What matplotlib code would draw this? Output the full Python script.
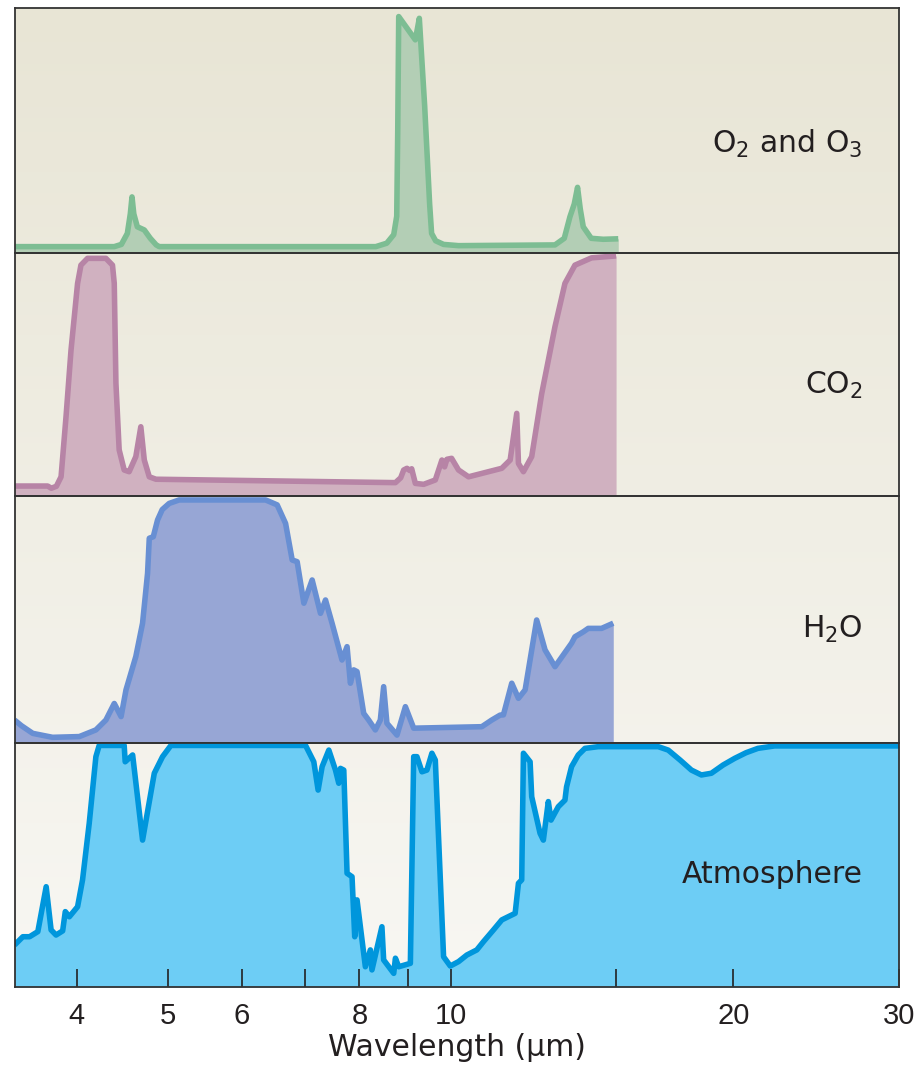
import numpy as np
import matplotlib
matplotlib.use("Agg")
import matplotlib.pyplot as plt
from matplotlib.ticker import FixedLocator, FixedFormatter, NullLocator

plt.rcParams['font.family'] = ['Liberation Sans', 'DejaVu Sans']
plt.rcParams['mathtext.fontset'] = 'dejavusans'

# ---------------- data (wavelength in micrometres, absorptivity 0..1) -------------
o2_wl = [3.436, 4.387, 4.464, 4.530, 4.563, 4.582, 4.602, 4.642, 4.722, 4.792, 4.862, 4.898,
         8.326, 8.553, 8.700, 8.764, 8.786, 8.807, 9.173, 9.263, 9.385, 9.500, 9.546, 9.640,
         9.830, 10.197, 12.915, 13.212, 13.397, 13.539, 13.649, 13.740, 13.841, 14.114,
         14.536, 15.080]
o2_abs = [0.026, 0.026, 0.035, 0.08, 0.16, 0.229, 0.16, 0.107, 0.094, 0.06, 0.033, 0.026,
          0.026, 0.040, 0.075, 0.15, 0.5, 0.965, 0.87, 0.958, 0.6, 0.2, 0.08, 0.05,
          0.035, 0.03, 0.033, 0.06, 0.148, 0.2, 0.268, 0.18, 0.107, 0.06,
          0.056, 0.058]

co2_wl = [3.436, 3.727, 3.760, 3.807, 3.851, 3.898, 3.946, 4.010, 4.043, 4.109, 4.298, 4.368,
          4.387, 4.405, 4.440, 4.495, 4.550, 4.625, 4.682, 4.722, 4.780, 4.859, 8.736, 8.850,
          8.915, 8.987, 9.047, 9.091, 9.173, 9.362, 9.633, 9.790, 9.854, 9.910, 10.025, 10.197,
          10.450, 11.337, 11.572, 11.760, 11.809, 11.954, 12.199, 12.500, 12.915, 13.234,
          13.562, 14.125, 15.0]
co2_abs = [0.041, 0.041, 0.032, 0.04, 0.079, 0.326, 0.60, 0.875, 0.95, 0.978, 0.978, 0.95,
           0.875, 0.464, 0.19, 0.107, 0.10, 0.162, 0.285, 0.148, 0.079, 0.069, 0.055, 0.075,
           0.107, 0.114, 0.105, 0.112, 0.052, 0.048, 0.066, 0.148, 0.12, 0.151, 0.155, 0.107,
           0.079, 0.114, 0.148, 0.34, 0.134, 0.10, 0.162, 0.42, 0.697, 0.875,
           0.95, 0.98, 0.988]

h2o_wl = [3.436, 3.495, 3.593, 3.772, 4.027, 4.194, 4.298, 4.387, 4.461, 4.515, 4.625, 4.702,
          4.760, 4.780, 4.827, 4.878, 4.934, 5.019, 5.143, 6.356, 6.539, 6.675, 6.784, 6.867,
          6.981, 7.124, 7.271, 7.361, 7.480, 7.665, 7.760, 7.824, 7.888, 7.952, 8.083, 8.182,
          8.317, 8.419, 8.488, 8.556, 8.770, 8.952, 9.136, 10.795, 11.062, 11.291, 11.383,
          11.617, 11.809, 12.004, 12.348, 12.604, 12.915, 13.450, 13.562, 13.841, 14.011,
          14.476, 14.897]
h2o_abs = [0.093, 0.07, 0.039, 0.023, 0.026, 0.053, 0.093, 0.16, 0.107, 0.215, 0.35, 0.485,
           0.687, 0.829, 0.835, 0.903, 0.945, 0.97, 0.984, 0.984, 0.964, 0.889, 0.741, 0.734,
           0.566, 0.66, 0.525, 0.579, 0.485, 0.336, 0.39, 0.242, 0.296, 0.289, 0.12, 0.093,
           0.053, 0.093, 0.228, 0.08, 0.032, 0.147, 0.06, 0.066, 0.093, 0.113, 0.114,
           0.242, 0.181, 0.215, 0.498, 0.377, 0.309, 0.404, 0.43, 0.45, 0.464,
           0.464, 0.485]

atm_wl = [3.436, 3.507, 3.565, 3.638, 3.713, 3.758, 3.804, 3.866, 3.891, 3.930, 4.010, 4.059,
          4.126, 4.194, 4.228, 4.495, 4.506, 4.589, 4.702, 4.839, 4.938, 5.040, 7.010, 7.153,
          7.229, 7.300, 7.421, 7.543, 7.604, 7.636, 7.698, 7.760, 7.855, 7.907, 7.952, 8.116,
          8.216, 8.248, 8.452, 8.488, 8.700, 8.736, 8.807, 9.062, 9.136, 9.209, 9.323, 9.437,
          9.553, 9.633, 9.830, 9.993, 10.197, 10.406, 10.664, 10.840, 11.108, 11.337, 11.714,
          11.809, 11.904, 11.954, 12.151, 12.199, 12.451, 12.552, 12.706, 12.790, 13.021,
          13.234, 13.286, 13.450, 13.673, 13.899, 14.359, 16.632, 17.043, 17.55, 18.041,
          18.487, 18.944, 19.50, 20.057, 20.62, 21.232, 22.114, 30.0]
atm_abs = [0.172, 0.206, 0.206, 0.227, 0.411, 0.234, 0.213, 0.23, 0.309, 0.288, 0.329, 0.439,
           0.671, 0.944, 0.99, 0.99, 0.923, 0.951, 0.602, 0.876, 0.944, 0.99, 0.99, 0.923,
           0.807, 0.903, 0.971, 0.889, 0.835, 0.896, 0.889, 0.466, 0.452, 0.206, 0.357, 0.083,
           0.152, 0.07, 0.247, 0.111, 0.056, 0.118, 0.083, 0.097, 0.944, 0.944, 0.882, 0.889,
           0.958, 0.93, 0.124, 0.086, 0.104, 0.131, 0.152, 0.186, 0.234, 0.275, 0.302,
           0.425, 0.439, 0.958, 0.923, 0.78, 0.63, 0.602, 0.76, 0.684, 0.739,
           0.766, 0.82, 0.903, 0.951, 0.978, 0.985, 0.985, 0.971, 0.93, 0.889,
           0.869, 0.876, 0.91, 0.937, 0.96, 0.978, 0.988, 0.988]

panel_labels = ["O$_\\mathregular{2}$ and O$_\\mathregular{3}$", "CO$_\\mathregular{2}$",
                "H$_\\mathregular{2}$O", "Atmosphere"]
tick_values = [4, 5, 6, 7, 8, 9, 10, 15, 20, 30]
tick_labels = ["4", "5", "6", "", "8", "", "10", "", "20", "30"]
x_label = "Wavelength (\u00b5m)"

series = [(o2_wl, o2_abs), (co2_wl, co2_abs), (h2o_wl, h2o_abs), (atm_wl, atm_abs)]
line_colors = ["#7dbd93", "#b784a6", "#688fd3", "#0096dc"]
fill_colors = ["#b3ceb5", "#d0b1c0", "#97a6d5", "#6dcdf5"]
label_base = [0.409, 0.42, 0.425, 0.426]

word_font = ['DejaVu Sans']
text_c = "#231f20"

# ---------------- layout ----------------
W, H = 923, 1080
fig = plt.figure(figsize=(W / 100, H / 100), dpi=100)
fig.patch.set_facecolor("white")

left_px, right_px = 15, 899
bounds_px = [(8, 253), (253, 496), (496, 743), (743, 987)]

def frac_rect(top, bot):
    return [left_px / W, 1 - bot / H, (right_px - left_px) / W, (bot - top) / H]

# background gradient
bg = fig.add_axes(frac_rect(8, 987), zorder=0)
c_top = np.array([232, 229, 213]) / 255.0
c_bot = np.array([248, 247, 243]) / 255.0
t = np.linspace(0, 1, 256)[:, None]
grad = (c_top[None, :] * (1 - t) + c_bot[None, :] * t)[:, None, :]
bg.imshow(grad, aspect="auto", extent=[0, 1, 0, 1], interpolation="bilinear")
bg.set_axis_off()

spine_c = "#333333"
axes = []
for i, (top, bot) in enumerate(bounds_px):
    ax = fig.add_axes(frac_rect(top, bot), zorder=1 + i)
    ax.set_facecolor("none")
    ax.set_xscale("log")
    ax.set_xlim(3.44, 30.0)
    ax.set_ylim(0, 1)
    wl, ab = series[i]
    ax.fill_between(wl, 0, ab, color=fill_colors[i], lw=0, zorder=1)
    ax.plot(wl, ab, color=line_colors[i], lw=4.0, solid_joinstyle="round",
            solid_capstyle="butt", zorder=2)
    ax.text(0.959, label_base[i], panel_labels[i], transform=ax.transAxes,
            ha="right", va="baseline", fontsize=21.5, family=word_font,
            color=text_c, zorder=3)
    for s in ax.spines.values():
        s.set_color(spine_c)
        s.set_linewidth(1.3)
        s.set_zorder(4)
    ax.yaxis.set_major_locator(NullLocator())
    ax.yaxis.set_minor_locator(NullLocator())
    ax.xaxis.set_minor_locator(NullLocator())
    if i < 3:
        ax.xaxis.set_major_locator(NullLocator())
        ax.tick_params(bottom=False, labelbottom=False, left=False, labelleft=False)
    axes.append(ax)

ax = axes[-1]
ax.xaxis.set_major_locator(FixedLocator(tick_values))
ax.xaxis.set_major_formatter(FixedFormatter(tick_labels))
ax.xaxis.set_minor_locator(NullLocator())
ax.tick_params(axis="x", direction="in", length=13, width=1.2, color="#222222",
               labelsize=21, labelcolor=text_c, pad=11)
ax.set_xlabel(x_label, fontsize=21.5, color=text_c, family=word_font)
ax.xaxis.label.set_va("baseline")
ax.xaxis.set_label_coords(0.5, -0.283)

fig.savefig("out.png", dpi=100, facecolor="white")
